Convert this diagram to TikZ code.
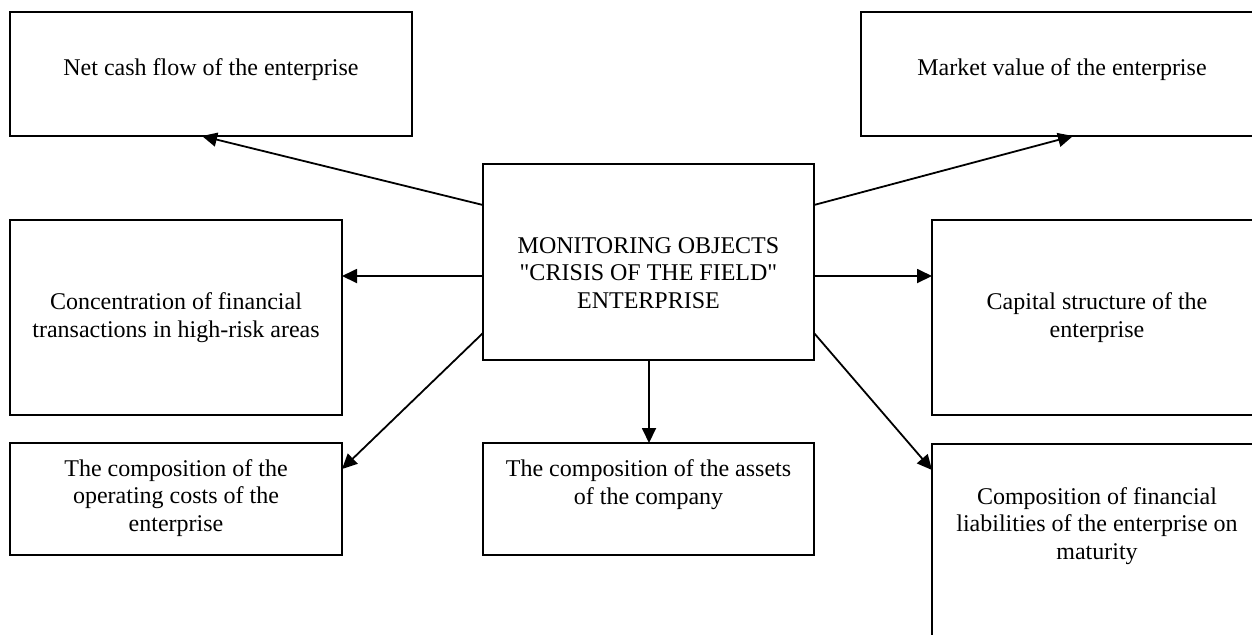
\documentclass[tikz,border=0pt]{standalone}
\usepackage{fontspec}
\setmainfont{Liberation Serif}
\usetikzlibrary{arrows.meta}
\begin{document}
\begin{tikzpicture}[x=0.5pt,y=-0.5pt,
  box/.style={draw=black,line width=1.1pt,rectangle,inner sep=0pt,outer sep=0pt,fill=none},
  txt/.style={inner sep=0pt,align=center,anchor=base,font=\fontsize{12}{13.6}\selectfont},
  arr/.style={draw=black,line width=0.9pt,-{Triangle[length=7.5pt,width=7pt]}}]
\useasboundingbox (0,0) rectangle (1252,634);
\clip (0,0) rectangle (1252,634);
\fill[white] (0,0) rectangle (1252,634);

% boxes
\node[box,minimum width=201pt,minimum height=62pt] (net) at (211,74) {};
\node[box,minimum width=201pt,minimum height=62pt] (market) at (1062,74) {};
\node[box,minimum width=165.5pt,minimum height=98pt] (ctr) at (648.5,262) {};
\node[box,minimum width=166pt,minimum height=97.5pt] (conc) at (176,317.5) {};
\node[box,minimum width=165pt,minimum height=97.5pt] (cap) at (1097,317.5) {};
\node[box,minimum width=166pt,minimum height=56pt] (ops) at (176,499) {};
\node[box,minimum width=165.5pt,minimum height=56pt] (assets) at (648.5,499) {};
\node[box,minimum width=165pt,minimum height=138pt] (liab) at (1097,582) {};

% labels (anchored at the baseline of their last line)
\node[txt] (netT) at (211,75) {Net cash flow of the enterprise};
\node[txt] (marketT) at (1062,75) {Market value of the enterprise};
\node[txt] (ctrT) at (648.5,308) {MONITORING OBJECTS\\\textquotedbl CRISIS OF THE FIELD\textquotedbl\\ENTERPRISE};
\node[txt] (concT) at (176,337) {Concentration of financial\\transactions in high-risk areas};
\node[txt] (capT) at (1097,337) {Capital structure of the\\enterprise};
\node[txt] (opsT) at (176,531) {The composition of the\\operating costs of the\\enterprise};
\node[txt] (assetsT) at (648.5,504) {The composition of the assets\\of the company};
\node[txt] (liabT) at (1097,559) {Composition of financial\\liabilities of the enterprise on\\maturity};

% connectors
\draw[arr] ([yshift=-20.5pt]ctr.north west) -- ([xshift=96pt]net.south west);
\draw[arr] ([yshift=-20.5pt]ctr.north east) -- ([xshift=106pt]market.south west);
\draw[arr] ([yshift=-56pt]ctr.north west) -- ([yshift=-28pt]conc.north east);
\draw[arr] ([yshift=-56pt]ctr.north east) -- ([yshift=-28pt]cap.north west);
\draw[arr] ([xshift=0.25pt]ctr.south) -- ([xshift=0.25pt]assets.north);
\draw[arr] ([yshift=-84.5pt]ctr.north west) -- ([yshift=-13pt]ops.north east);
\draw[arr] ([yshift=-84.5pt]ctr.north east) -- ([yshift=-13pt]liab.north west);
\end{tikzpicture}
\end{document}
